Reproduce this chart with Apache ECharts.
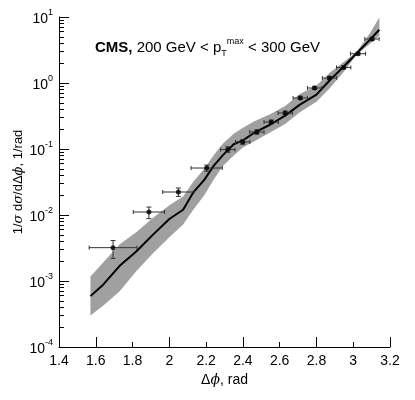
<!DOCTYPE html>
<html>
<head>
<meta charset="utf-8">
<script src="https://cdn.jsdelivr.net/npm/echarts@6/dist/echarts.min.js"></script>
<style>
  html, body { margin: 0; padding: 0; background: #fff; }
  #chart { width: 415px; height: 400px; }
</style>
</head>
<body>
<div id="chart"></div>
<script>
// measured points (CMS)
const dataX = [1.694, 1.889, 2.049, 2.203, 2.318, 2.399, 2.476, 2.554, 2.630, 2.712, 2.790, 2.871, 2.948, 3.026, 3.102]
const dataY = [3.2e-3, 1.11e-2, 2.23e-2, 5.15e-2, 9.8e-2, 0.128, 0.181, 0.256, 0.351, 0.593, 0.84, 1.19, 1.72, 2.78, 4.64]
const dataXErr = [0.13, 0.085, 0.085, 0.085, 0.039, 0.039, 0.039, 0.039, 0.039, 0.039, 0.039, 0.039, 0.039, 0.041, 0.039]
const dataYLow = [2.2e-3, 8.8e-3, 1.91e-2, 4.6e-2, 0.089, 0.118, 0.168, 0.24, 0.33, 0.56, 0.80, 1.13, 1.64, 2.65, 4.4]
const dataYHigh = [4.1e-3, 1.32e-2, 2.56e-2, 5.7e-2, 0.108, 0.139, 0.195, 0.274, 0.375, 0.63, 0.89, 1.25, 1.81, 2.92, 4.9]

// theory curve and its uncertainty band
const theoryX = [1.571, 1.64, 1.73, 1.82, 1.91, 2.0, 2.075, 2.13, 2.19, 2.24, 2.29, 2.35, 2.40, 2.46, 2.55, 2.63, 2.71, 2.80, 2.875, 2.95, 3.02, 3.09, 3.142]
const theoryY = [5.9e-4, 8.8e-4, 1.7e-3, 2.8e-3, 5.0e-3, 8.7e-3, 1.2e-2, 2.2e-2, 3.4e-2, 5.5e-2, 8.0e-2, 0.118, 0.135, 0.175, 0.235, 0.32, 0.47, 0.665, 1.12, 1.79, 2.85, 4.5, 6.4]
const bandHigh = [1.17e-3, 1.9e-3, 3.6e-3, 5.5e-3, 9.0e-3, 1.4e-2, 1.9e-2, 3.2e-2, 5.0e-2, 8.0e-2, 0.12, 0.17, 0.21, 0.26, 0.34, 0.45, 0.68, 0.92, 1.45, 2.1, 3.0, 5.6, 9.8]
const bandLow = [3.0e-4, 4.2e-4, 7.0e-4, 1.4e-3, 2.6e-3, 4.6e-3, 7.2e-3, 1.2e-2, 2.0e-2, 3.4e-2, 5.5e-2, 0.08, 0.105, 0.13, 0.18, 0.24, 0.36, 0.52, 0.85, 1.5, 2.7, 3.9, 5.2]

// axis ticks
const yMajorTicks = [1e-4, 1e-3, 1e-2, 1e-1, 1, 10]
const yMinorTicks = []
for (let e = -4; e < 1; e++) {
  for (let m = 2; m <= 9; m++) yMinorTicks.push(m * Math.pow(10, e))
}
const xMajorTicks = [1.6, 2.0, 2.4, 2.8, 3.2]
const xMinorTicks = [1.8, 2.2, 2.6, 3.0]

const font = 'Liberation Sans, Arial, sans-serif'

const chart = echarts.init(document.getElementById('chart'))

const option = {
  animation: false,
  title: {
    text: '{b|CMS,} 200 GeV < p{sub|T}{sup|max} < 300 GeV',
    left: 90,
    top: 32,
    textStyle: {
      fontFamily: font,
      fontSize: 15,
      fontWeight: 'normal',
      color: '#000',
      lineHeight: 21,
      rich: {
        b: { fontFamily: font, fontSize: 15, fontWeight: 'bold', color: '#000', lineHeight: 21 },
        sub: { fontFamily: font, fontSize: 9, color: '#000', verticalAlign: 'bottom', lineHeight: 9 },
        sup: { fontFamily: font, fontSize: 9, color: '#000', verticalAlign: 'top', lineHeight: 9 },
      },
    },
  },
  grid: { left: 59, right: 25, top: 17, bottom: 53, outerBoundsMode: 'none', containLabel: false },
  xAxis: [
    {
      type: 'value',
      min: 1.4,
      max: 3.2,
      interval: 0.2,
      name: 'Δ{i|ϕ}, rad',
      nameLocation: 'middle',
      nameGap: 26,
      nameTextStyle: {
        fontFamily: font, fontSize: 14, color: '#000',
        rich: { i: { fontFamily: 'DejaVu Serif', fontStyle: 'italic', fontSize: 14, color: '#000' } },
      },
      axisLine: { lineStyle: { color: '#000', width: 1 } },
      axisTick: { inside: true, length: 10, customValues: xMajorTicks, lineStyle: { color: '#000' } },
      axisLabel: { fontFamily: font, fontSize: 14, color: '#000', margin: 7 },
      splitLine: { show: false },
    },
    {
      type: 'value',
      min: 1.4,
      max: 3.2,
      position: 'bottom',
      axisLine: { show: false },
      axisTick: { inside: true, length: 5, customValues: xMinorTicks, lineStyle: { color: '#000' } },
      axisLabel: { show: false },
      splitLine: { show: false },
    },
  ],
  yAxis: [
    {
      type: 'log',
      logBase: 10,
      min: 1e-4,
      max: 10,
      name: '1/{i|σ} d{i|σ}/dΔ{i|ϕ}, 1/rad',
      nameLocation: 'middle',
      nameGap: 34,
      nameMoveOverlap: false,
      nameTextStyle: {
        fontFamily: font, fontSize: 13, color: '#000',
        rich: { i: { fontFamily: 'DejaVu Serif', fontStyle: 'italic', fontSize: 13, color: '#000' } },
      },
      axisLine: { show: true, lineStyle: { color: '#000', width: 1 } },
      axisTick: { inside: true, length: 10, customValues: yMajorTicks, lineStyle: { color: '#000' } },
      axisLabel: {
        customValues: yMajorTicks,
        margin: 6,
        formatter: (v) => '{b|10}{s|' + Math.round(Math.log10(v)) + '}',
        rich: {
          b: { fontFamily: font, fontSize: 14, color: '#000', verticalAlign: 'bottom', lineHeight: 18 },
          s: { fontFamily: font, fontSize: 9, color: '#000', verticalAlign: 'top', lineHeight: 9 },
        },
      },
      splitLine: { show: false },
      minorTick: { show: false },
    },
    {
      type: 'log',
      logBase: 10,
      min: 1e-4,
      max: 10,
      position: 'left',
      axisLine: { show: false },
      axisTick: { inside: true, length: 5, customValues: yMinorTicks, lineStyle: { color: '#000' } },
      axisLabel: { show: false },
      splitLine: { show: false },
    },
  ],
  series: [
    {
      name: 'band',
      type: 'custom',
      xAxisIndex: 0,
      yAxisIndex: 0,
      silent: true,
      z: 1,
      data: [[theoryX[0], theoryY[0]]],
      renderItem: (params, api) => {
        const pts = []
        theoryX.forEach((x, i) => pts.push(api.coord([x, bandHigh[i]])))
        for (let i = theoryX.length - 1; i >= 0; i--) pts.push(api.coord([theoryX[i], bandLow[i]]))
        return { type: 'polygon', shape: { points: pts }, style: { fill: '#a0a0a0', stroke: null } }
      },
    },
    {
      name: 'theory',
      type: 'line',
      z: 2,
      symbol: 'none',
      lineStyle: { color: '#000', width: 2 },
      data: theoryX.map((x, i) => [x, theoryY[i]]),
    },
    {
      name: 'errors',
      type: 'custom',
      z: 3,
      data: dataX.map((x, i) => [x, dataY[i], x - dataXErr[i], x + dataXErr[i], dataYLow[i], dataYHigh[i]]),
      encode: { x: 0, y: 1 },
      renderItem: (params, api) => {
        const y = api.value(1)
        const x = api.value(0)
        const l = api.coord([api.value(2), y])
        const r = api.coord([api.value(3), y])
        const b = api.coord([x, api.value(4)])
        const t = api.coord([x, api.value(5)])
        const style = { stroke: '#333', lineWidth: 1 }
        const seg = (x1, y1, x2, y2) => ({ type: 'line', shape: { x1, y1, x2, y2 }, style })
        return {
          type: 'group',
          children: [
            seg(l[0], l[1], r[0], r[1]),
            seg(l[0], l[1] - 2, l[0], l[1] + 2),
            seg(r[0], r[1] - 2, r[0], r[1] + 2),
            seg(b[0], b[1], t[0], t[1]),
            seg(b[0] - 2.5, b[1], b[0] + 2.5, b[1]),
            seg(t[0] - 2.5, t[1], t[0] + 2.5, t[1]),
          ],
        }
      },
    },
    {
      name: 'data',
      type: 'scatter',
      z: 4,
      symbol: 'circle',
      symbolSize: 5,
      itemStyle: { color: '#000' },
      data: dataX.map((x, i) => [x, dataY[i]]),
    },
  ],
}

chart.setOption(option)
</script>
</body>
</html>
